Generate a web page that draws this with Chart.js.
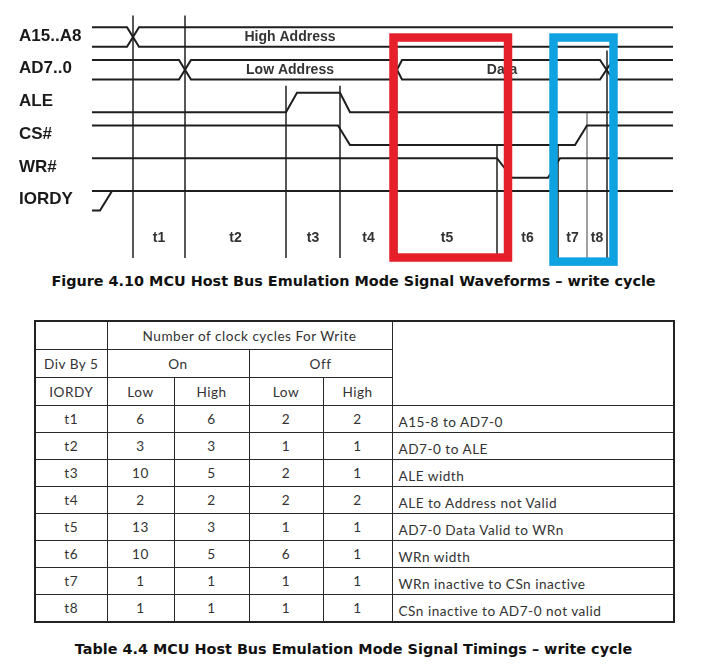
<!DOCTYPE html>
<html lang="en">
<head>
  <meta charset="UTF-8" />
  <title>MCU Host Bus Emulation Mode – write cycle</title>
  <script src="https://cdn.jsdelivr.net/npm/chart.js@4.4.0/dist/chart.umd.min.js"></script>
  <style>
    body {
      margin: 0;
      background: #fff;
      width: 707px;
      height: 665px;
      position: relative;
      overflow: hidden;
    }
    #wave { position: absolute; left: 0; top: 0; }
    .caption {
      position: absolute;
      left: 0;
      width: 707px;
      text-align: center;
      font: bold 14.4px "DejaVu Sans", Verdana, sans-serif;
      color: #111;
    }
    #timings {
      position: absolute;
      left: 34px;
      top: 320px;
      width: 639px;
      border-collapse: collapse;
      table-layout: fixed;
      border: 2.5px solid #222;
      font: 13.6px Lato, sans-serif;
      letter-spacing: 0.5px;
      color: #333;
    }
    #timings td {
      border: 1.5px solid #2a2a2a;
      text-align: center;
      padding: 0;
      height: 26px;
    }
    #timings tr.head td { height: 27px; }
    #timings td.desc { text-align: left; padding: 5px 0 0 6px; height: 21px; }
  </style>
</head>
<body>
  <canvas id="wave" width="707" height="270"></canvas>
  <div class="caption" style="top:273px">Figure 4.10 MCU Host Bus Emulation Mode Signal Waveforms – write cycle</div>
  <table id="timings"></table>
  <div class="caption" style="top:641px">Table 4.4 MCU Host Bus Emulation Mode Signal Timings – write cycle</div>

  <script>
    // --- waveform data (time in diagram units, level 1 = high, 0 = low) ---
    const signalNames = ['A15..A8', 'AD7..0', 'ALE', 'CS#', 'WR#', 'IORDY'];
    const edgeTimes = [4.1, 9.3, 19.4, 24.8, 30.5, 40.5, 46.6, 49.5, 51.5];
    const edgeTops = [10.0, 10.0, 6.4, 6.4, 8.2, 3.4, 3.4, 5.0, 8.2];
    const intervalLabels = ['t1', 't2', 't3', 't4', 't5', 't6', 't7', 't8'];

    const a15Upper = [[0, 1], [3.5, 1], [4.7, 0], [58.1, 0]];
    const a15Lower = [[0, 0], [3.5, 0], [4.7, 1], [58.1, 1]];
    const ad7Upper = [[0, 1], [8.7, 1], [9.9, 0], [30.5, 0]];
    const ad7Lower = [[0, 0], [8.7, 0], [9.9, 1], [30.5, 1]];
    const dataUpper = [[30.5, 0.5], [31.0, 1], [50.8, 1], [52.1, 0], [58.1, 0]];
    const dataLower = [[30.5, 0.5], [31.0, 0], [50.8, 0], [52.1, 1], [58.1, 1]];
    const aleWave = [[0, 0], [19.4, 0], [20.5, 1], [24.8, 1], [25.8, 0], [58.1, 0]];
    const csWave = [[0, 1], [24.6, 1], [25.8, 0], [48.3, 0], [49.5, 1], [58.1, 1]];
    const wrWave = [[0, 1], [40.5, 1], [42.0, 0], [45.6, 0], [46.8, 1], [58.1, 1]];
    const iordyHigh = [[0, 1], [58.1, 1]];
    const iordyRise = [[0, 0], [0.8, 0], [2.0, 1]];

    const traceSignals = [0, 0, 1, 1, 1, 1, 2, 3, 4, 5, 5];
    const traces = [a15Upper, a15Lower, ad7Upper, ad7Lower, dataUpper, dataLower,
                    aleWave, csWave, wrWave, iordyHigh, iordyRise];

    const busLabels = ['High Address', 'Low Address', 'Data'];
    const busLabelSignal = [0, 1, 1];
    const busLabelTime = [19.8, 19.8, 41.0];

    // highlighted regions (time spans)
    const redBox = [30.15, 41.6];
    const blueBox = [46.15, 52.15];

    // --- table data ---
    const timingNames = ['t1', 't2', 't3', 't4', 't5', 't6', 't7', 't8'];
    const onLow = [6, 3, 10, 2, 13, 10, 1, 1];
    const onHigh = [6, 3, 5, 2, 3, 5, 1, 1];
    const offLow = [2, 1, 2, 2, 1, 6, 1, 1];
    const offHigh = [2, 1, 1, 2, 1, 1, 1, 1];
    const descriptions = [
      'A15-8 to AD7-0',
      'AD7-0 to ALE',
      'ALE width',
      'ALE to Address not Valid',
      'AD7-0 Data Valid to WRn',
      'WRn width',
      'WRn inactive to CSn inactive',
      'CSn inactive to AD7-0 not valid'
    ];

    // --- build waveform chart ---
    const ROW_GAP = 1.68;
    const rowBase = k => (signalNames.length - 1 - k) * ROW_GAP;

    const datasets = traces.map((tr, i) => ({
      data: tr.map(p => ({ x: p[0], y: rowBase(traceSignals[i]) + p[1] })),
      borderColor: '#1e1e1e',
      borderWidth: 2,
      showLine: true,
      pointRadius: 0,
      tension: 0,
      clip: false
    }));

    edgeTimes.forEach((t, i) => {
      const gray = (i === 4 || i === 7);
      datasets.push({
        data: [{ x: t, y: edgeTops[i] }, { x: t, y: -2.44 }],
        borderColor: gray ? '#777' : '#111',
        borderWidth: 1.4,
        showLine: true,
        pointRadius: 0,
        clip: false
      });
    });

    const labelsPlugin = {
      id: 'labels',
      afterDatasetsDraw(chart) {
        const { ctx, scales: { x, y } } = chart;
        ctx.save();
        ctx.fillStyle = '#1a1a1a';
        ctx.textBaseline = 'middle';

        // signal names
        ctx.font = 'bold 17px "Liberation Sans", Arial, sans-serif';
        ctx.textAlign = 'left';
        signalNames.forEach((name, k) => {
          ctx.fillText(name, 19, y.getPixelForValue(rowBase(k) + 0.55));
        });

        // bus value labels
        ctx.font = 'bold 14px "Liberation Sans", Arial, sans-serif';
        ctx.textAlign = 'center';
        ctx.fillStyle = '#333';
        busLabels.forEach((txt, i) => {
          ctx.fillText(txt, x.getPixelForValue(busLabelTime[i]),
                       y.getPixelForValue(rowBase(busLabelSignal[i]) + 0.5));
        });

        // interval labels centred between edges
        ctx.font = 'bold 14px "Liberation Sans", Arial, sans-serif';
        intervalLabels.forEach((txt, i) => {
          const mid = (edgeTimes[i] + edgeTimes[i + 1]) / 2;
          ctx.fillText(txt, x.getPixelForValue(mid), y.getPixelForValue(-1.4));
        });

        // highlight boxes
        const drawBox = (span, color, bottom) => {
          const x0 = x.getPixelForValue(span[0]);
          const x1 = x.getPixelForValue(span[1]);
          const y0 = y.getPixelForValue(8.87);
          const y1 = y.getPixelForValue(bottom);
          ctx.strokeStyle = color;
          ctx.lineWidth = 8.5;
          ctx.strokeRect(x0, y0, x1 - x0, y1 - y0);
        };
        drawBox(redBox, '#e6202b', -2.41);
        drawBox(blueBox, '#0ea2e0', -2.62);
        ctx.restore();
      }
    };

    new Chart(document.getElementById('wave'), {
      type: 'scatter',
      data: { datasets },
      options: {
        responsive: false,
        animation: false,
        layout: { padding: 0 },
        scales: {
          x: { type: 'linear', min: -9.2, max: 61.5, display: false },
          y: { type: 'linear', min: -3.05, max: 10.795, display: false }
        },
        plugins: { legend: { display: false }, tooltip: { enabled: false } }
      },
      plugins: [labelsPlugin]
    });

    // --- build timing table ---
    const table = document.getElementById('timings');
    const colWidths = [72, 67, 75, 74, 69, 282];
    let html = '<colgroup>' + colWidths.map(w => `<col style="width:${w}px">`).join('') + '</colgroup>';
    html += '<tr class="head"><td></td><td colspan="4">Number of clock cycles For Write</td><td rowspan="3"></td></tr>';
    html += '<tr class="head"><td>Div By 5</td><td colspan="2">On</td><td colspan="2">Off</td></tr>';
    html += '<tr class="head"><td>IORDY</td><td>Low</td><td>High</td><td>Low</td><td>High</td></tr>';
    timingNames.forEach((t, i) => {
      html += `<tr><td>${t}</td><td>${onLow[i]}</td><td>${onHigh[i]}</td>` +
              `<td>${offLow[i]}</td><td>${offHigh[i]}</td><td class="desc">${descriptions[i]}</td></tr>`;
    });
    table.innerHTML = html;
  </script>
</body>
</html>
